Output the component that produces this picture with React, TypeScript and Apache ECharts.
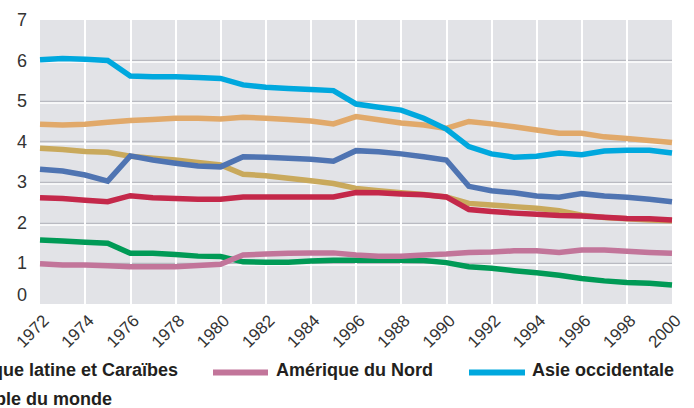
import React, { useEffect, useRef } from "react";
import * as echarts from "echarts";

const years = [1972,1973,1974,1975,1976,1977,1978,1979,1980,1981,1982,1983,1984,1985,1986,1987,1988,1989,1990,1991,1992,1993,1994,1995,1996,1997,1998,1999,2000];
const tickLabels = ["1972","1974","1976","1978","1980","1982","1984","1996","1988","1990","1992","1994","1996","1998","2000"];

const asieOccidentale = [6.02,6.05,6.03,6.0,5.62,5.6,5.6,5.58,5.56,5.4,5.34,5.31,5.29,5.26,4.93,4.85,4.78,4.58,4.31,3.88,3.7,3.62,3.64,3.72,3.68,3.77,3.79,3.79,3.72];
const afrique = [4.43,4.41,4.43,4.48,4.52,4.55,4.58,4.58,4.56,4.6,4.58,4.55,4.51,4.44,4.62,4.54,4.46,4.41,4.33,4.5,4.44,4.37,4.29,4.21,4.21,4.12,4.08,4.03,3.98];
const ameriqueLatine = [3.84,3.81,3.76,3.74,3.64,3.59,3.55,3.49,3.43,3.2,3.16,3.1,3.04,2.97,2.85,2.79,2.74,2.7,2.64,2.48,2.44,2.4,2.36,2.3,2.19,2.13,2.1,2.07,2.05];
const asie = [3.32,3.28,3.18,3.03,3.65,3.55,3.47,3.4,3.38,3.63,3.62,3.59,3.57,3.52,3.78,3.75,3.7,3.63,3.55,2.9,2.79,2.74,2.66,2.63,2.72,2.66,2.63,2.58,2.52];
const ensembleMonde = [2.62,2.6,2.56,2.52,2.67,2.62,2.6,2.58,2.58,2.64,2.64,2.64,2.64,2.64,2.75,2.74,2.71,2.69,2.64,2.33,2.28,2.24,2.21,2.18,2.17,2.14,2.11,2.1,2.07];
const europe = [1.58,1.55,1.52,1.5,1.25,1.25,1.22,1.18,1.17,1.04,1.03,1.03,1.06,1.08,1.08,1.08,1.08,1.07,1.02,0.92,0.88,0.82,0.77,0.71,0.63,0.57,0.53,0.51,0.47];
const ameriqueNord = [0.99,0.96,0.96,0.94,0.92,0.92,0.92,0.95,0.98,1.21,1.23,1.25,1.26,1.26,1.21,1.18,1.18,1.21,1.23,1.27,1.28,1.31,1.31,1.27,1.33,1.33,1.3,1.27,1.25];

const seriesDefs = [
  { name: "Europe", data: europe, color: "#009a56" },
  { name: "Amérique du Nord", data: ameriqueNord, color: "#c2759a" },
  { name: "Amérique latine et Caraïbes", data: ameriqueLatine, color: "#c9a95c" },
  { name: "Ensemble du monde", data: ensembleMonde, color: "#c4284a" },
  { name: "Asie", data: asie, color: "#4f74b2" },
  { name: "Afrique", data: afrique, color: "#e1a96a" },
  { name: "Asie occidentale", data: asieOccidentale, color: "#00a8de" },
];

const FONT = "'Liberation Sans', Arial, sans-serif";

export default function App() {
  const ref = useRef<HTMLDivElement>(null);
  useEffect(() => {
    if (!ref.current) return;
    const chart = echarts.init(ref.current, null, { renderer: "svg" });
    const grey = "#b9bac1";
    const tr = "rgba(0,0,0,0)";
    const white = "#ffffff";
    const vColors = [tr, ...Array(13).fill(white), tr];
    const option: any = {
      animation: false,
      grid: [
        { left: 40, right: 22, top: 20, bottom: 104, show: true, backgroundColor: "#e2e3e7", borderWidth: 0 },
        { left: 40, right: 22, top: 21.6, bottom: 102.4, show: false },
      ],
      xAxis: [
        {
          type: "value", gridIndex: 0, min: 1972, max: 2000, interval: 2,
          axisLine: { show: false }, axisTick: { show: false },
          splitLine: { show: true, lineStyle: { color: vColors, width: 2 } },
          axisLabel: {
            rotate: 45, margin: 8, fontSize: 17, color: "#333333", fontFamily: FONT,
            verticalAlign: "top",
            formatter: (v: number) => tickLabels[Math.round((v - 1972) / 2)] ?? "",
          },
        },
        {
          type: "value", gridIndex: 1, min: 1972, max: 2000, interval: 2, show: false,
          splitLine: { show: false },
        },
      ],
      yAxis: [
        {
          type: "value", gridIndex: 0, min: 0, max: 7, interval: 1,
          axisLine: { show: false }, axisTick: { show: false },
          splitLine: { show: true, lineStyle: { color: [tr, grey, grey, grey, grey, grey, grey, tr], width: 1.3 } },
          axisLabel: { margin: 13, fontSize: 18, color: "#333333", fontFamily: FONT, verticalAlignMinLabel: "bottom" },
        },
        {
          type: "value", gridIndex: 1, min: 0, max: 7, interval: 1,
          axisLine: { show: false }, axisTick: { show: false }, axisLabel: { show: false },
          splitLine: { show: true, lineStyle: { color: [tr, white, white, white, white, white, white, tr], width: 1.6 } },
        },
      ],
      series: seriesDefs.map((s) => ({
        name: s.name,
        type: "line",
        xAxisIndex: 0,
        yAxisIndex: 0,
        data: years.map((y, i) => [y, s.data[i]]),
        showSymbol: false,
        symbol: "none",
        lineStyle: { color: s.color, width: 5.5, join: "miter", cap: "butt" },
        itemStyle: { color: s.color },
        z: 5,
      })),
      graphic: [
        { type: "text", x: 178, y: 370, style: { text: "Amérique latine et Caraïbes", align: "right", verticalAlign: "middle", fontSize: 18, fontWeight: "bold", fill: "#231f20", fontFamily: FONT } },
        { type: "line", shape: { x1: 213, y1: 372.5, x2: 268, y2: 372.5 }, style: { stroke: "#c2759a", lineWidth: 6 } },
        { type: "text", x: 276, y: 370, style: { text: "Amérique du Nord", align: "left", verticalAlign: "middle", fontSize: 18, fontWeight: "bold", fill: "#231f20", fontFamily: FONT } },
        { type: "line", shape: { x1: 469, y1: 372.5, x2: 525, y2: 372.5 }, style: { stroke: "#00a8de", lineWidth: 6 } },
        { type: "text", x: 532, y: 370, style: { text: "Asie occidentale", align: "left", verticalAlign: "middle", fontSize: 18, fontWeight: "bold", fill: "#231f20", fontFamily: FONT } },
        { type: "text", x: 112, y: 399, style: { text: "Ensemble du monde", align: "right", verticalAlign: "middle", fontSize: 18, fontWeight: "bold", fill: "#231f20", fontFamily: FONT } },
      ],
    };
    chart.setOption(option);
    return () => chart.dispose();
  }, []);
  return <div ref={ref} style={{ width: 694, height: 408, position: "absolute", left: 0, top: 0 }} />;
}
